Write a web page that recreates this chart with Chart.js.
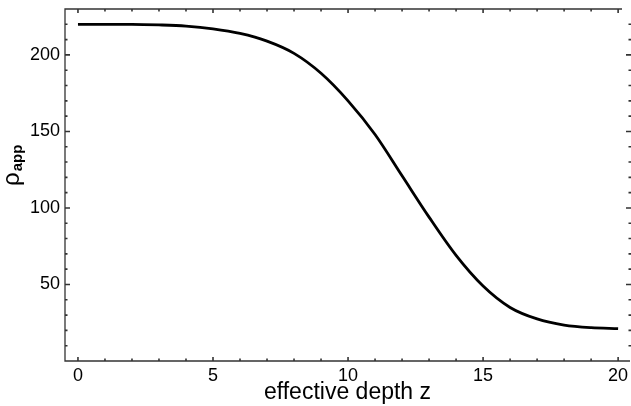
<!DOCTYPE html>
<html>
<head>
<meta charset="utf-8">
<script src="https://cdn.jsdelivr.net/npm/chart.js@4"></script>
<style>
  html, body { margin: 0; padding: 0; background: #fff; }
  #wrap { width: 631px; height: 406px; }
</style>
</head>
<body>
<div id="wrap"><canvas id="chart"></canvas></div>
<script>
// values
const depth = [0, 1, 2, 3, 4, 5, 6, 7, 8, 9, 10, 11, 12, 13, 14, 15, 16, 17, 18, 19, 20];
const rhoApp = [220, 220, 220, 219.6, 218.8, 217, 214, 209, 201, 188, 170, 148, 121, 94, 69, 49, 35, 27.5, 23.5, 21.8, 21.2];
const xTicks = [0, 5, 10, 15, 20];
const yTicks = [50, 100, 150, 200];

const font = "'Liberation Sans', Arial, Helvetica, sans-serif";
const ink = "#000";

// Mathematica-style frame with inward ticks on all four sides
const frame = {
  id: "frame",
  afterDraw(chart) {
    const { ctx, chartArea: a, scales } = chart;
    const x = scales.x, y = scales.y;
    ctx.save();
    ctx.strokeStyle = "#333";
    ctx.lineWidth = 1.3;
    ctx.beginPath();
    ctx.moveTo(a.right - 8, a.top);
    ctx.lineTo(a.left, a.top);
    ctx.lineTo(a.left, a.bottom);
    ctx.lineTo(a.right, a.bottom);
    ctx.stroke();

    ctx.lineWidth = 1.6;
    ctx.beginPath();
    for (let v = 0; v <= 20; v++) {
      const px = x.getPixelForValue(v);
      const len = v % 5 === 0 ? 4 : 2.5;
      ctx.moveTo(px, a.bottom); ctx.lineTo(px, a.bottom - len);
      ctx.moveTo(px, a.top); ctx.lineTo(px, a.top + len);
    }
    for (let v = 10; v <= 220; v += 10) {
      const py = y.getPixelForValue(v);
      const len = v % 50 === 0 ? 5 : 2.5;
      ctx.moveTo(a.left, py); ctx.lineTo(a.left + len, py);
      ctx.moveTo(a.right + 1, py); ctx.lineTo(a.right + 1 - len, py);
    }
    ctx.stroke();

    // y axis title: rho with "app" subscript
    ctx.fillStyle = ink;
    ctx.translate(19, 186);
    ctx.rotate(-Math.PI / 2);
    ctx.textBaseline = "alphabetic";
    ctx.font = "24px " + font;
    ctx.fillText("\u03c1", 0, 0);
    const w = ctx.measureText("\u03c1").width;
    ctx.font = "bold 15px " + font;
    ctx.fillText("app", w + 1, 3);
    ctx.restore();
  },
};

new Chart(document.getElementById("chart"), {
  type: "line",
  data: {
    datasets: [{
      data: depth.map((z, i) => ({ x: z, y: rhoApp[i] })),
      borderColor: "#000",
      borderWidth: 2.8,
      pointRadius: 0,
      fill: false,
      cubicInterpolationMode: "monotone",
    }],
  },
  options: {
    responsive: true,
    maintainAspectRatio: false,
    animation: false,
    layout: { padding: { top: 9, right: 1, left: 0, bottom: 0 } },
    plugins: { legend: { display: false }, tooltip: { enabled: false } },
    scales: {
      x: {
        type: "linear",
        min: -0.48,
        max: 20.44,
        grid: { display: false, drawTicks: false, tickLength: 0 },
        border: { display: false },
        afterBuildTicks: (s) => { s.ticks = xTicks.map((v) => ({ value: v })); },
        afterFit: (s) => { s.height = 45; s.paddingLeft = 0; s.paddingRight = 0; },
        ticks: { color: ink, font: { family: font, size: 18 }, padding: 4, maxRotation: 0 },
        title: {
          display: true,
          text: "effective depth z",
          color: ink,
          font: { family: font, size: 23 },
          padding: { top: 0, bottom: 0 },
        },
      },
      y: {
        min: 0,
        max: 230,
        grid: { display: false, drawTicks: false, tickLength: 0 },
        border: { display: false },
        afterBuildTicks: (s) => { s.ticks = yTicks.map((v) => ({ value: v })); },
        afterFit: (s) => { s.width = 65; s.paddingTop = 0; s.paddingBottom = 0; },
        ticks: { color: ink, font: { family: font, size: 18 }, padding: 5 },
      },
    },
  },
  plugins: [frame],
});
</script>
</body>
</html>
